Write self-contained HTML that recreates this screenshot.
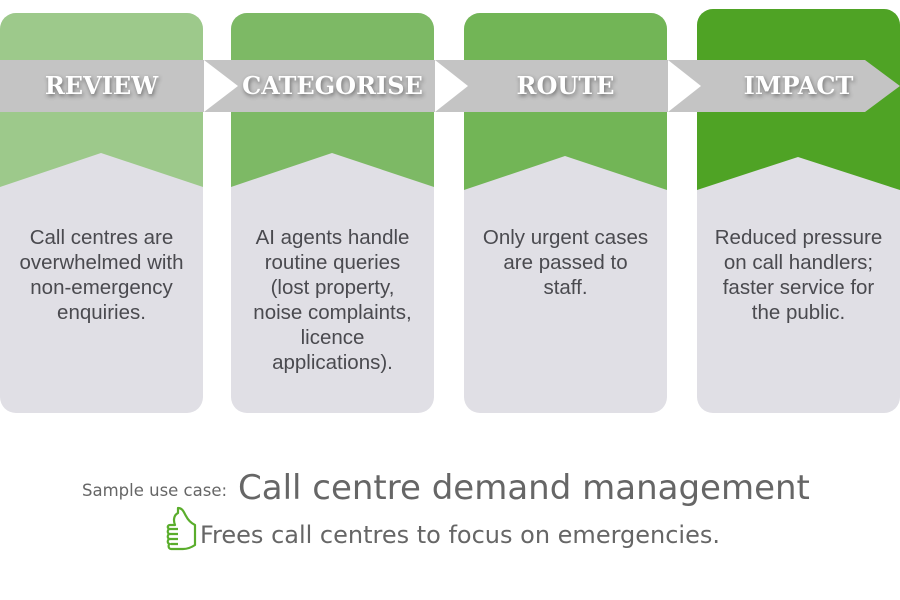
<!DOCTYPE html>
<html><head><meta charset="utf-8"><style>
body{margin:0;width:900px;height:600px;background:#fff;position:relative;overflow:hidden;font-family:"Liberation Sans",sans-serif}
svg{position:absolute;left:0;top:0}
.t{position:absolute;top:68px;width:203px;text-align:center;color:#fff;font-family:"DejaVu Serif","Liberation Serif",serif;font-weight:bold;font-size:24px;line-height:36px;text-shadow:1px 2px 4px rgba(0,0,0,.45)}
.b{position:absolute;top:225px;width:203px;text-align:center;color:#4a4a4f;font-size:20.5px;line-height:25px;white-space:nowrap}
.d{font-family:"DejaVu Sans",sans-serif;color:#666;position:absolute;white-space:nowrap}
</style></head><body>
<svg width="900" height="600">
<defs>
<clipPath id="c1"><rect x="0" y="13" width="203" height="400" rx="16"/></clipPath>
<clipPath id="c2"><rect x="231" y="13" width="203" height="400" rx="16"/></clipPath>
<clipPath id="c3"><rect x="464" y="13" width="203" height="400" rx="16"/></clipPath>
<clipPath id="c4"><rect x="697" y="9" width="203" height="404" rx="16"/></clipPath>
</defs>
<g clip-path="url(#c1)"><rect x="0" y="0" width="203" height="420" fill="#e0dfe5"/><polygon points="0,0 203,0 203,187 101,153 0,187" fill="#9dc98b"/></g>
<g clip-path="url(#c2)"><rect x="231" y="0" width="203" height="420" fill="#e0dfe5"/><polygon points="231,0 434,0 434,187 332,153 231,187" fill="#7db965"/></g>
<g clip-path="url(#c3)"><rect x="464" y="0" width="203" height="420" fill="#e0dfe5"/><polygon points="464,0 667,0 667,190 565,156 464,190" fill="#72b556"/></g>
<g clip-path="url(#c4)"><rect x="697" y="0" width="203" height="420" fill="#e0dfe5"/><polygon points="697,0 900,0 900,190 798,157 697,190" fill="#4fa325"/></g>
<polygon points="0,60 865,60 900,86 865,112 0,112" fill="#c4c4c4"/>
<polygon points="204,60 238,86 204,112" fill="#fff"/>
<polygon points="435,60 468,86 435,112" fill="#fff"/>
<polygon points="668,60 701,86 668,112" fill="#fff"/>
<g fill="none" stroke="#5aad2c" stroke-width="2.2" stroke-linejoin="round">
<path d="M178,513 c-4,2 -5,7 -3,12 l-5,0 c-3,0 -3,4 0,4 c-3,0 -3,5 0,5 c-3,0 -3,5 0,5 c-3,0 -3,5 0,5 c-2,0 -2,5 1,5 l12,0 c4,0 9,-2 12,-4 l0,-20 c-4,-2 -7,-5 -9,-9 c-2,-3 -3,-8 -8,-8 z"/>
<path d="M170,529 h8 M170,534 h8 M170,539 h8 M171,544 h7"/>
</g>
</svg>
<div class="t" style="left:0">REVIEW</div>
<div class="t" style="left:231px">CATEGORISE</div>
<div class="t" style="left:464px">ROUTE</div>
<div class="t" style="left:697px">IMPACT</div>
<div class="b" style="left:0">Call centres are<br>overwhelmed with<br>non-emergency<br>enquiries.</div>
<div class="b" style="left:231px">AI agents handle<br>routine queries<br>(lost property,<br>noise complaints,<br>licence<br>applications).</div>
<div class="b" style="left:464px">Only urgent cases<br>are passed to<br>staff.</div>
<div class="b" style="left:697px">Reduced pressure<br>on call handlers;<br>faster service for<br>the public.</div>
<div class="d" style="left:82px;top:481px;font-size:16.5px">Sample use case:</div>
<div class="d" style="left:238px;top:468px;font-size:34px">Call centre demand management</div>
<div class="d" style="left:200px;top:521px;font-size:24px">Frees call centres to focus on emergencies.</div>
</body></html>
